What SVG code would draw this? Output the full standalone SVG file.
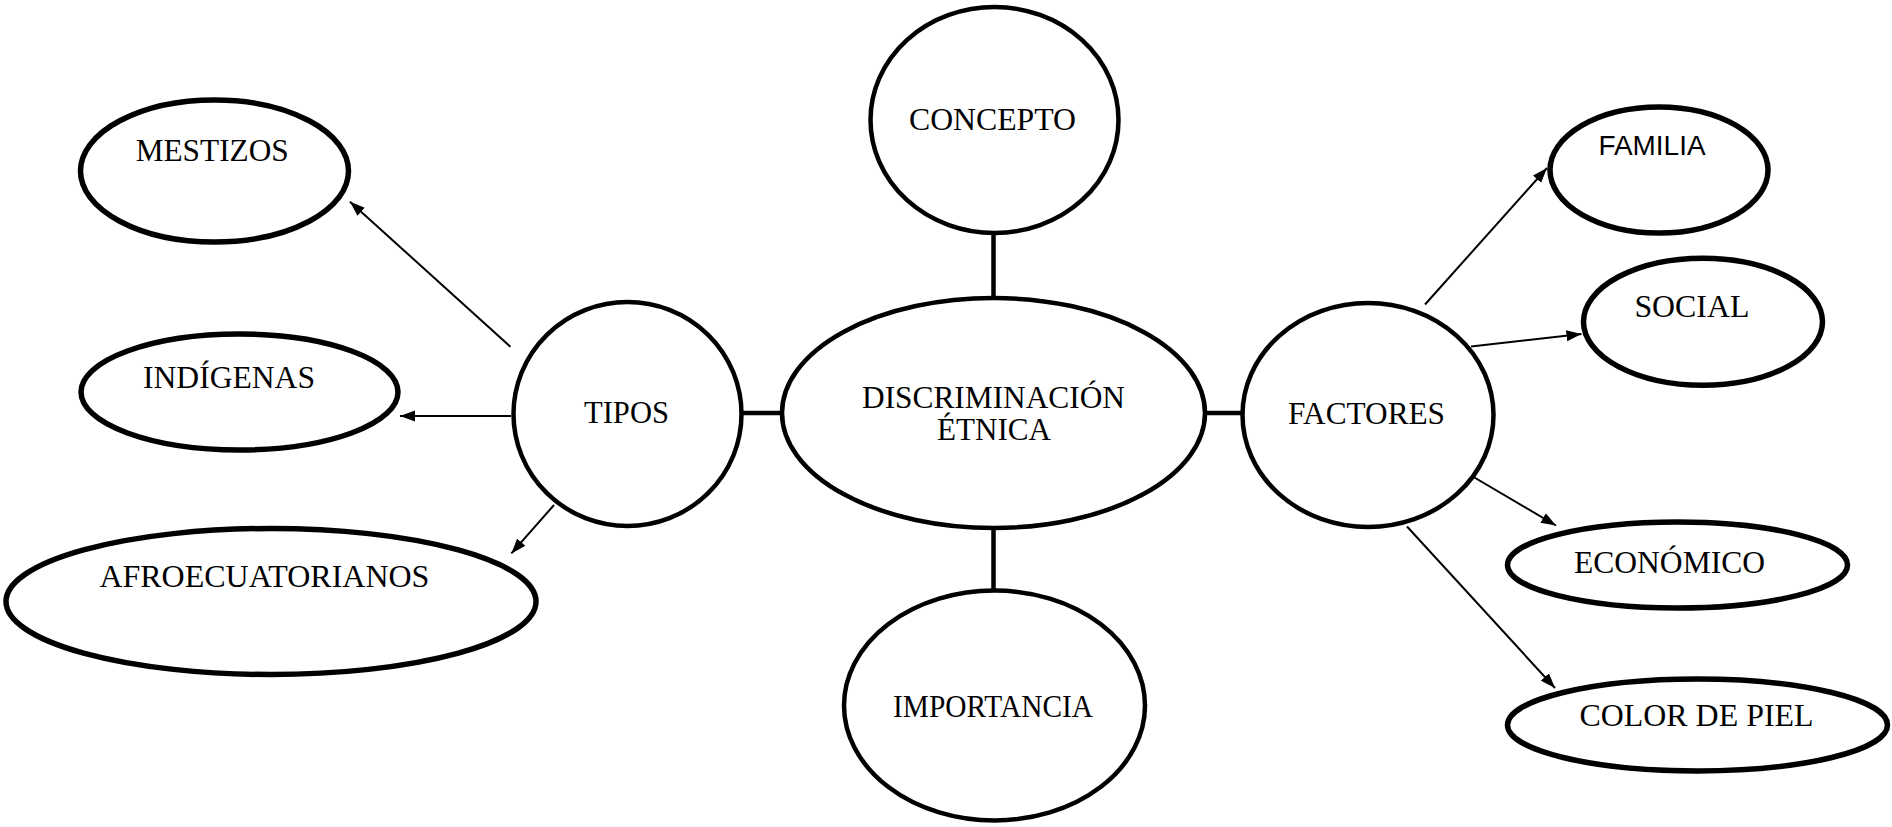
<svg xmlns="http://www.w3.org/2000/svg" width="1892" height="827" viewBox="0 0 1892 827">
<style>
.leaf{fill:#fff;stroke:#000;stroke-width:5.5}
.hub{fill:#fff;stroke:#000;stroke-width:4.5}
.t{font-family:"Liberation Serif","Times New Roman",serif;font-size:31px;fill:#000}
.s{font-family:"Liberation Sans",Arial,sans-serif;font-size:27px;fill:#000}
.bar{stroke:#000;stroke-width:4.5;fill:none}
.arr{stroke:#000;stroke-width:2;fill:none;marker-end:url(#ah)}
</style>
<defs>
<marker id="ah" markerUnits="userSpaceOnUse" markerWidth="16" markerHeight="12" refX="15" refY="6" orient="auto">
<path d="M0,0.5 L15,6 L0,11.5 Z" fill="#000"/>
</marker>
</defs>
<rect width="1892" height="827" fill="#fff"/>
<g id="connectors">
<line class="bar" x1="743" y1="413" x2="782" y2="413"/>
<line class="bar" x1="1205" y1="413" x2="1243" y2="413"/>
<line class="bar" x1="993.5" y1="233" x2="993.5" y2="299"/>
<line class="bar" x1="993.5" y1="527" x2="993.5" y2="591"/>
<line class="arr" x1="510.4" y1="346.7" x2="350" y2="201.7"/>
<line class="arr" x1="511" y1="416" x2="400" y2="416"/>
<line class="arr" x1="554" y1="505" x2="511.4" y2="553.4"/>
<line class="arr" x1="1425" y1="304.5" x2="1547" y2="168"/>
<line class="arr" x1="1471" y1="346.5" x2="1581.5" y2="334"/>
<line class="arr" x1="1468.5" y1="474" x2="1556" y2="525.5"/>
<line class="arr" x1="1407" y1="526.5" x2="1555" y2="688"/>
</g>
<g id="mestizos"><ellipse class="leaf" cx="214.5" cy="171" rx="134" ry="71"/><text class="t" x="135.7" y="161" textLength="153" lengthAdjust="spacingAndGlyphs">MESTIZOS</text></g>
<g id="indigenas"><ellipse class="leaf" cx="239.5" cy="392" rx="158.5" ry="58"/><text class="t" x="143" y="388" textLength="172" lengthAdjust="spacingAndGlyphs">INDÍGENAS</text></g>
<g id="afroecuatorianos"><ellipse class="leaf" cx="271" cy="601.5" rx="265" ry="73"/><text class="t" x="99.4" y="587" textLength="330" lengthAdjust="spacingAndGlyphs">AFROECUATORIANOS</text></g>
<g id="tipos"><ellipse class="hub" cx="627.5" cy="414" rx="114" ry="112"/><text class="t" x="584" y="423" textLength="85" lengthAdjust="spacingAndGlyphs">TIPOS</text></g>
<g id="concepto"><ellipse class="hub" cx="994.5" cy="120" rx="124" ry="113"/><text class="t" x="909" y="130" textLength="167" lengthAdjust="spacingAndGlyphs">CONCEPTO</text></g>
<g id="discriminacion"><ellipse class="hub" cx="993.5" cy="413" rx="211.5" ry="115"/><text class="t" x="862" y="408" textLength="263" lengthAdjust="spacingAndGlyphs">DISCRIMINACIÓN</text><text class="t" x="937" y="440" textLength="114" lengthAdjust="spacingAndGlyphs">ÉTNICA</text></g>
<g id="importancia"><ellipse class="hub" cx="994.5" cy="705.5" rx="150.5" ry="115"/><text class="t" x="893" y="717" textLength="200" lengthAdjust="spacingAndGlyphs">IMPORTANCIA</text></g>
<g id="factores"><ellipse class="hub" cx="1368" cy="415" rx="125.5" ry="112"/><text class="t" x="1288" y="424" textLength="157" lengthAdjust="spacingAndGlyphs">FACTORES</text></g>
<g id="familia"><ellipse class="leaf" cx="1659" cy="170" rx="109" ry="63"/><text class="s" x="1598.5" y="155" textLength="107" lengthAdjust="spacingAndGlyphs">FAMILIA</text></g>
<g id="social"><ellipse class="leaf" cx="1703" cy="321.7" rx="119.5" ry="63.5"/><text class="t" x="1634.4" y="316.6" textLength="115" lengthAdjust="spacingAndGlyphs">SOCIAL</text></g>
<g id="economico"><ellipse class="leaf" cx="1677.5" cy="565" rx="170" ry="43"/><text class="t" x="1574" y="573" textLength="191" lengthAdjust="spacingAndGlyphs">ECONÓMICO</text></g>
<g id="color-de-piel"><ellipse class="leaf" cx="1697.5" cy="725" rx="190" ry="46"/><text class="t" x="1579.5" y="726.4" textLength="234" lengthAdjust="spacingAndGlyphs">COLOR DE PIEL</text></g>
</svg>
